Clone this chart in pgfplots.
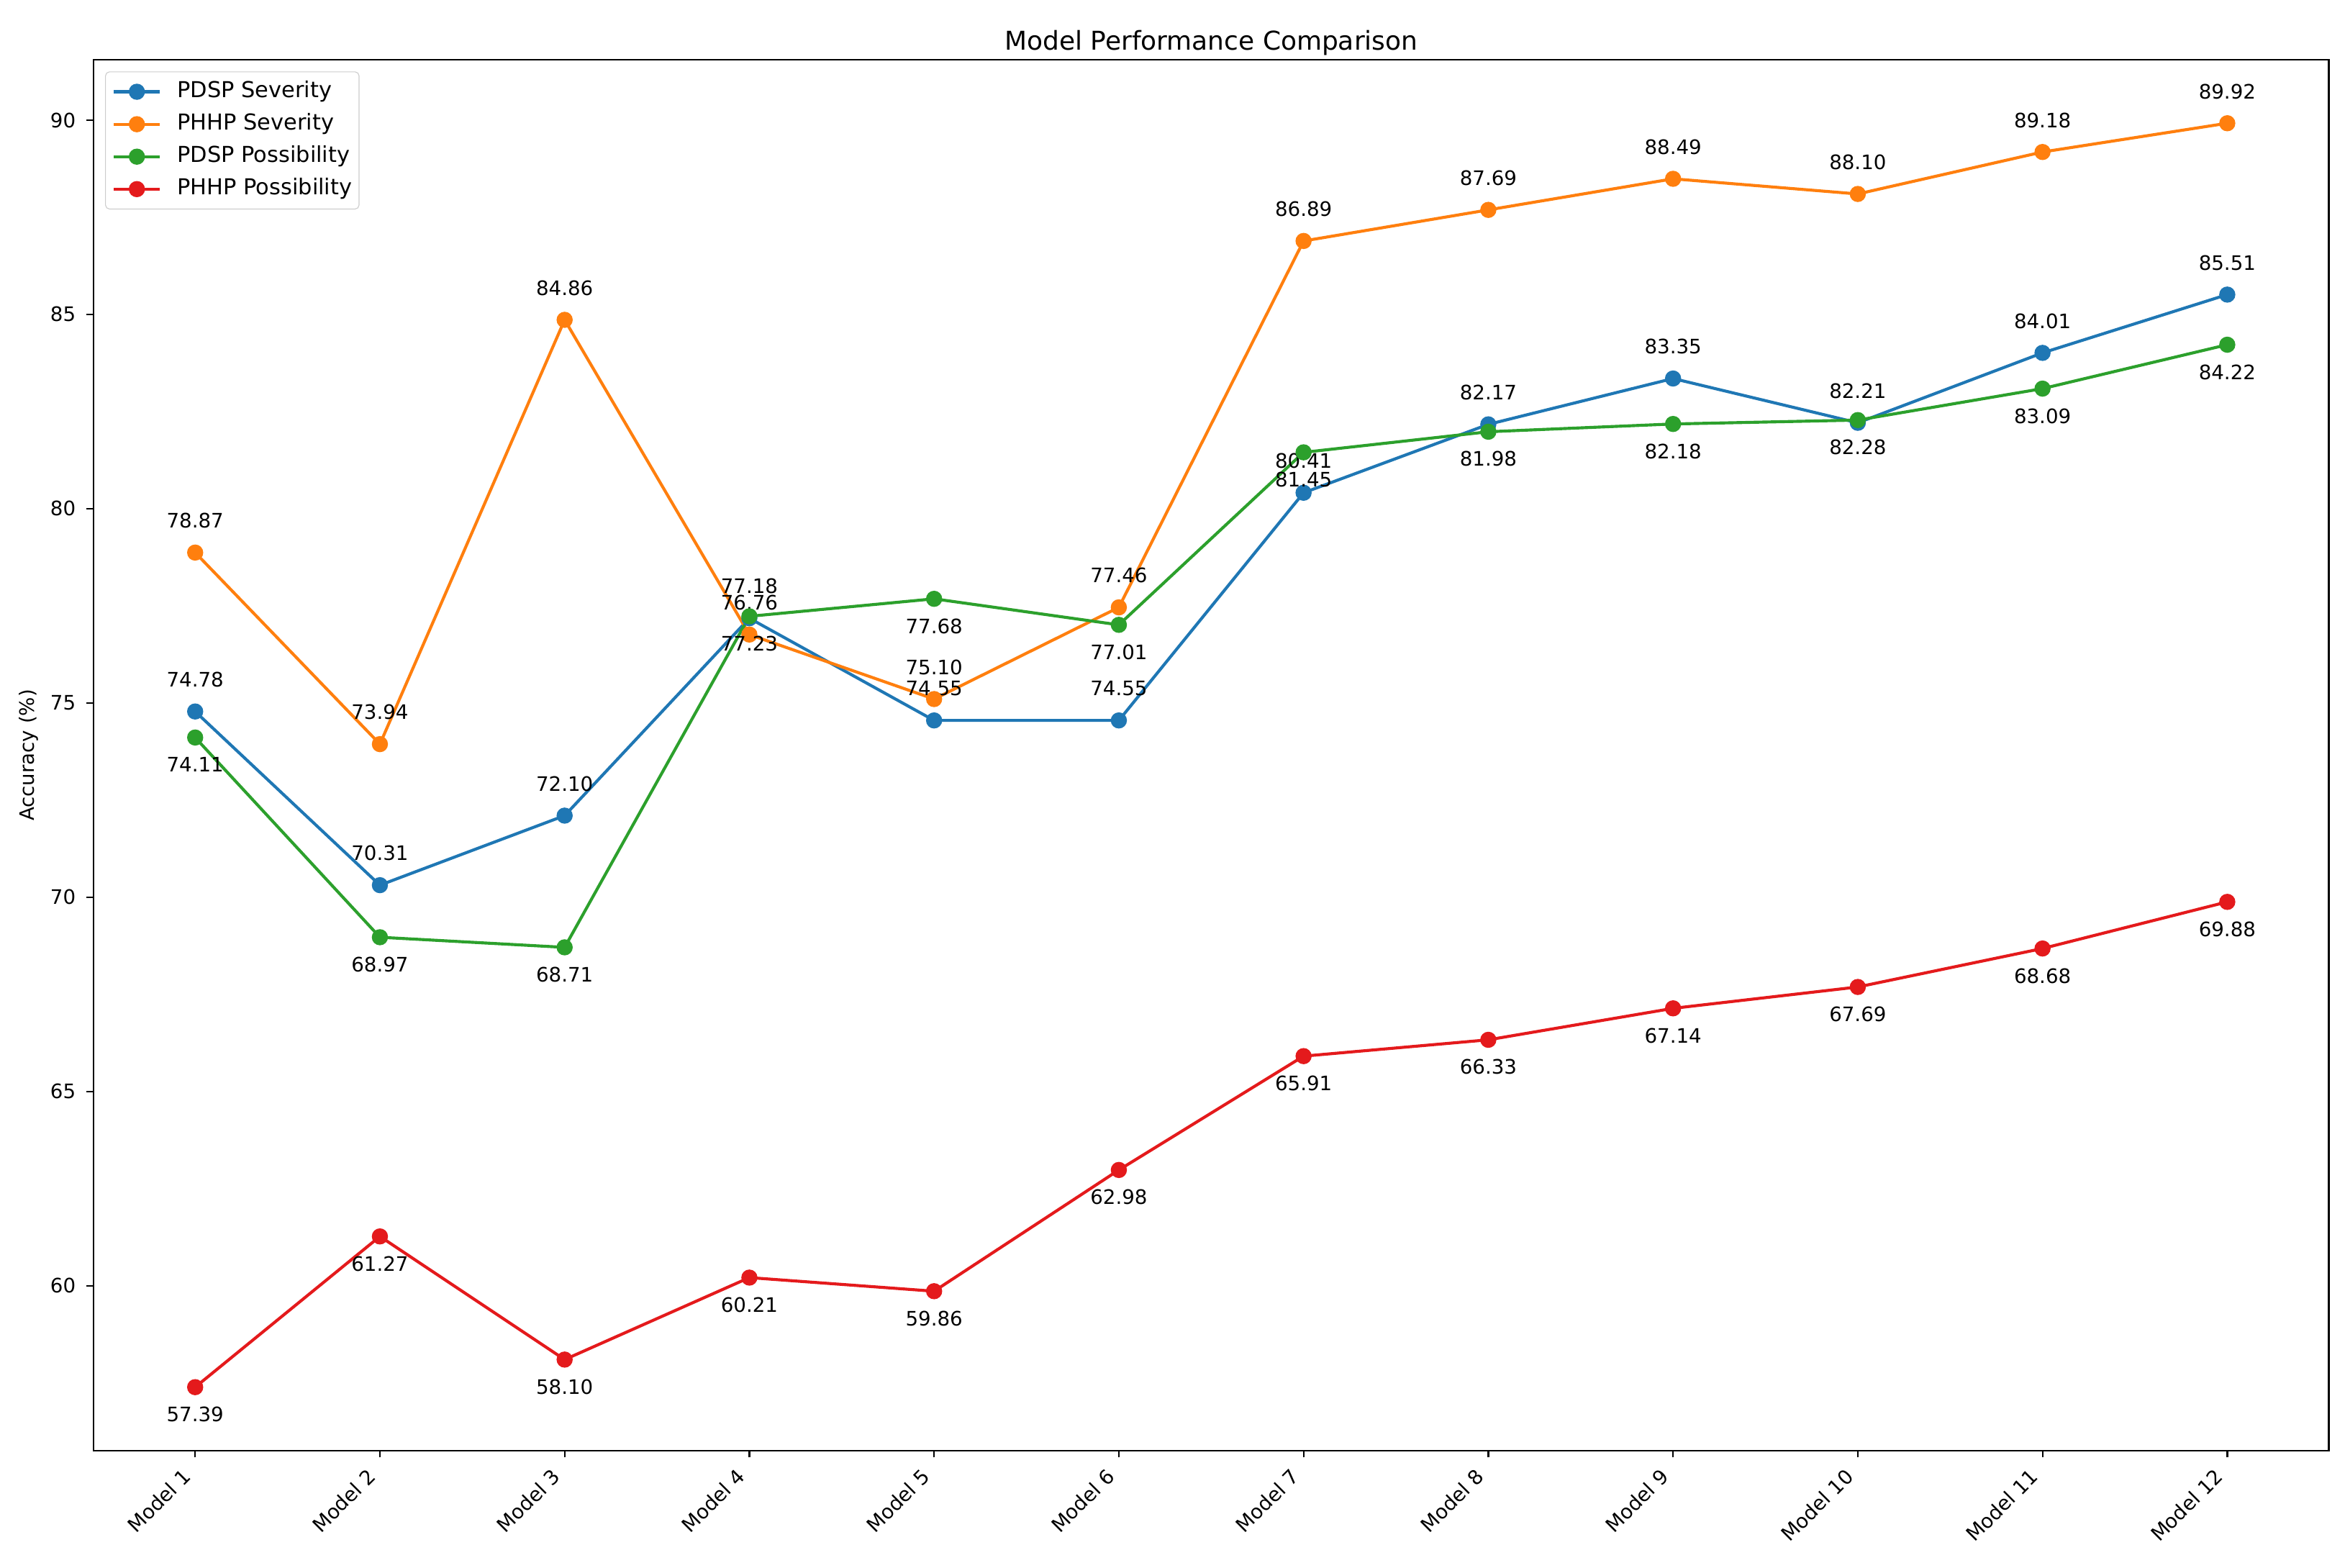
\documentclass[border=0pt]{standalone}
\usepackage{fontspec}
\setmainfont{DejaVu Sans}
\usepackage{pgfplots}
\usepackage{pgfplotstable}
\pgfplotsset{compat=1.18}
\definecolor{cblue}{HTML}{1F77B4}
\definecolor{corange}{HTML}{FF7F0E}
\definecolor{cgreen}{HTML}{2CA02C}
\definecolor{cred}{HTML}{E41A1C}

\pgfplotstableread{
x sevPDSP sevPHHP posPDSP posPHHP
0 74.78 78.87 74.11 57.39
1 70.31 73.94 68.97 61.27
2 72.10 84.86 68.71 58.10
3 77.18 76.76 77.23 60.21
4 74.55 75.10 77.68 59.86
5 74.55 77.46 77.01 62.98
6 80.41 86.89 81.45 65.91
7 82.17 87.69 81.98 66.33
8 83.35 88.49 82.18 67.14
9 82.21 88.10 82.28 67.69
10 84.01 89.18 83.09 68.68
11 85.51 89.92 84.22 69.88
}\datatable

\begin{document}
\begin{tikzpicture}
\begin{axis}[
  at={(0,0)}, anchor=south west,
  scale only axis, width=1122.9pt, height=698.5pt,
  xmin=-0.55, xmax=11.55, ymin=55.76, ymax=91.55,
  xtick={0,1,2,3,4,5,6,7,8,9,10,11},
  xticklabels={Model 1,Model 2,Model 3,Model 4,Model 5,Model 6,Model 7,Model 8,Model 9,Model 10,Model 11,Model 12},
  ytick={60,65,70,75,80,85,90},
  /pgf/number format/assume math mode=true,
  tick align=outside, xtick pos=bottom, ytick pos=left,
  major tick length=3.5pt,
  every tick/.style={black, line width=0.8pt},
  axis line style={black, line width=0.8pt},
  tick label style={font=\fontsize{10}{12}\selectfont},
  xticklabel style={xshift=-4.1pt, yshift=-7.6pt, rotate=45, anchor=east, inner sep=0pt},
  yticklabel style={anchor=east, inner sep=0pt, xshift=-5.3pt},
  ylabel={Accuracy (\%)},
  ylabel style={font=\fontsize{10}{12}\selectfont, at={(axis description cs:-0.0289,0.5)}, anchor=center},
  title={Model Performance Comparison},
  title style={font=\fontsize{13}{15}\selectfont, at={(axis description cs:0.5,1)}, anchor=base, yshift=-1pt},
  legend cell align=left,
  legend style={at={(0,1)}, anchor=north west, xshift=5.8pt, yshift=-5.8pt,
    draw=black!20, rounded corners=2pt, font=\fontsize{11}{13}\selectfont,
    nodes={inner sep=0pt, text height=8.4pt, text depth=2.6pt},
    row sep=5.3pt, inner xsep=3.5pt, inner ysep=4.5pt,
    /tikz/every odd column/.append style={column sep=8.1pt}},
  legend image code/.code={\draw[mark repeat=2,mark phase=2] plot coordinates {(0pt,0pt) (11.5pt,0pt) (23pt,0pt)};},
  every axis plot/.append style={line width=1.5pt, mark=*, mark size=3.3pt},
  nodes near coords={\pgfmathprintnumber[fixed,fixed zerofill,precision=2]{\pgfplotspointmeta}},
  point meta=y,
  every node near coord/.append style={font=\fontsize{10}{12}\selectfont, text=black, anchor=center},
]
\addplot[color=cblue, every node near coord/.append style={yshift=16pt}] table[x=x,y=sevPDSP] {\datatable};
\addlegendentry{PDSP Severity}
\addplot[color=corange, every node near coord/.append style={yshift=16pt}] table[x=x,y=sevPHHP] {\datatable};
\addlegendentry{PHHP Severity}
\addplot[color=cgreen, every node near coord/.append style={yshift=-13.7pt}] table[x=x,y=posPDSP] {\datatable};
\addlegendentry{PDSP Possibility}
\addplot[color=cred, every node near coord/.append style={yshift=-13.7pt}] table[x=x,y=posPHHP] {\datatable};
\addlegendentry{PHHP Possibility}
\end{axis}
\pgfresetboundingbox
\path (-47pt,-59pt) rectangle (1131pt,728.6pt);
\end{tikzpicture}
\end{document}
